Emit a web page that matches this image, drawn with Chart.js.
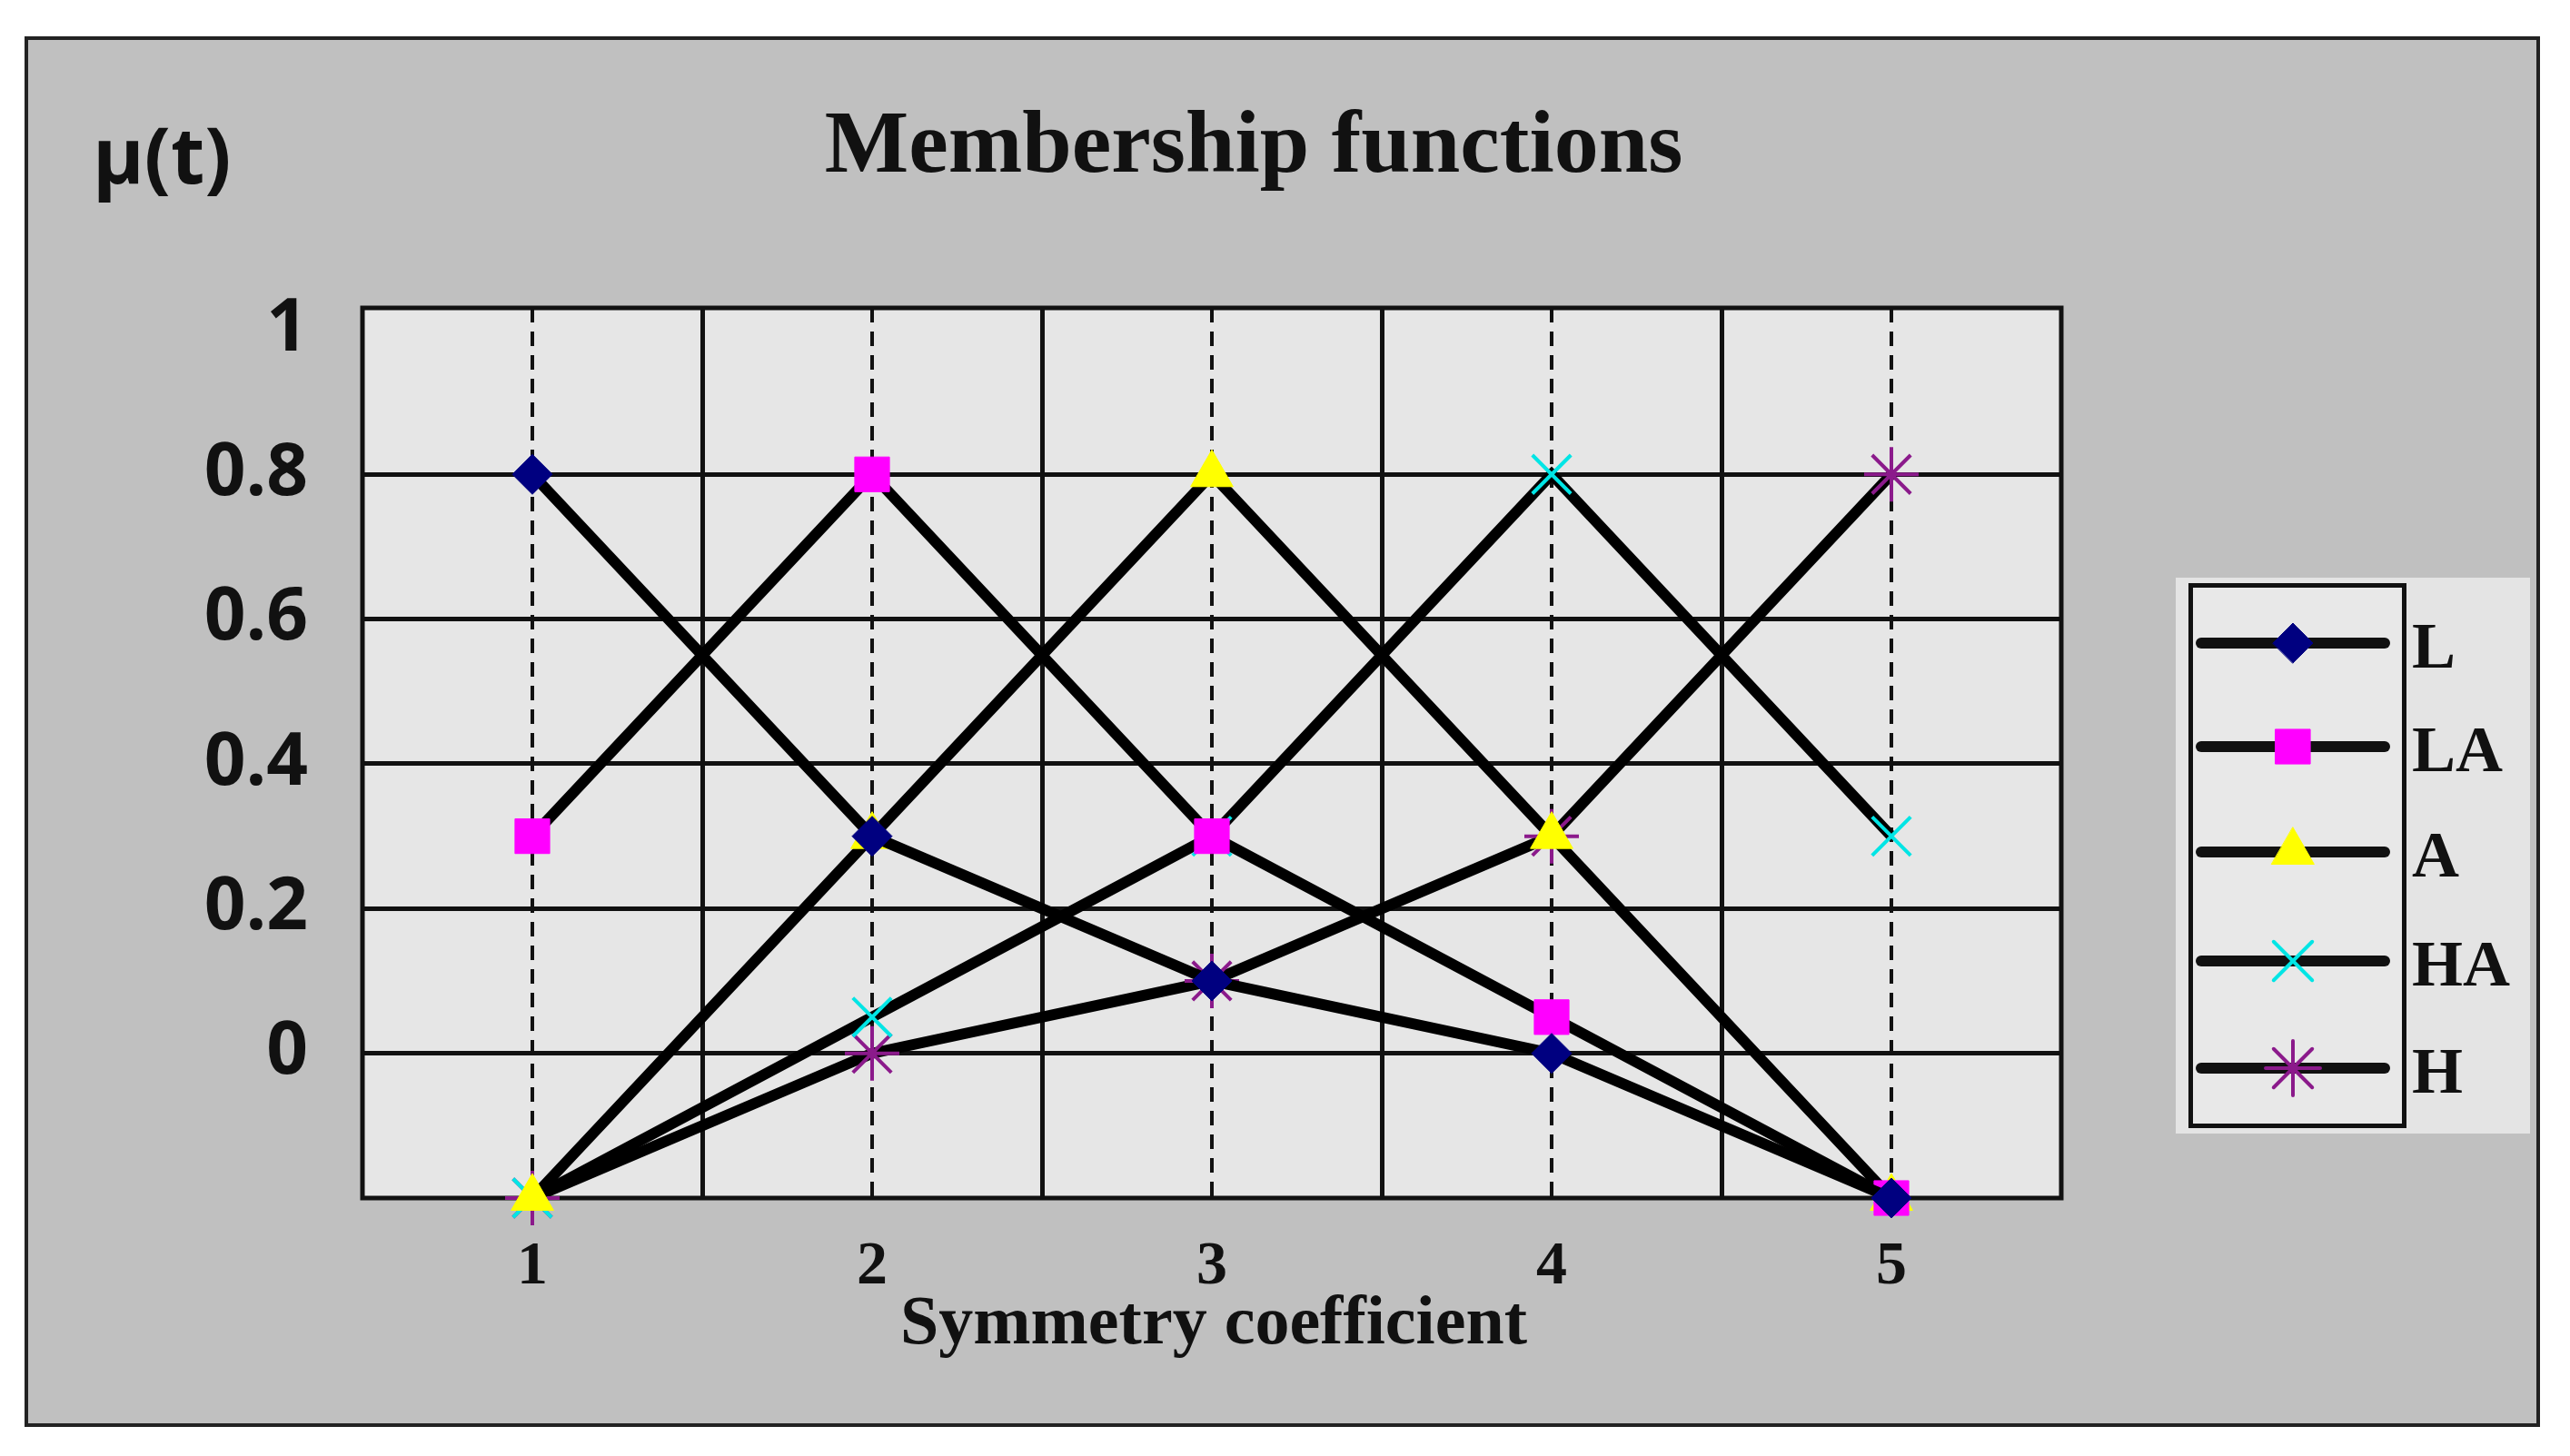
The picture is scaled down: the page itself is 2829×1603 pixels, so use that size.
<!DOCTYPE html>
<html><head><meta charset="utf-8">
<script src="https://cdn.jsdelivr.net/npm/chart.js@4"></script>
<style>
body{margin:0;width:2829px;height:1603px;background:#fff;position:relative;overflow:hidden}
#frame{position:absolute;left:27px;top:40px;width:2761px;height:1523px;background:#c0c0c0;border:4px solid #222}
#cv{position:absolute;left:0;top:0}
.t{position:absolute;font-weight:bold;color:#111;white-space:nowrap}
#legend{position:absolute;left:2395px;top:636px;width:390px;height:612px;background:#e4e4e4}
#lbox{position:absolute;left:14px;top:6px;width:230px;height:590px;border:5px solid #111;background:#e8e8e8}
.li{position:absolute;left:0;height:80px;width:390px}
.li span{position:absolute;left:260px;top:2px;font:bold 72px "Liberation Serif",serif;color:#111}
</style></head><body>
<div id="frame"></div>
<canvas id="cv" width="2829" height="1603"></canvas>
<div class="t" style="left:102px;top:110px;font:bold 86px 'Open Sans',sans-serif">μ(t)</div>
<div class="t" style="left:0;width:2760px;text-align:center;top:100px;font:bold 98px 'Liberation Serif',serif">Membership functions</div>
<div class="t" style="left:399px;width:1874px;text-align:center;top:1410px;font:bold 76px 'Liberation Serif',serif">Symmetry coefficient</div>
<div id="legend"><div id="lbox"></div></div>
<script>
var categories=[1,2,3,4,5];
var seriesNames=["L","LA","A","HA","H"];
var valuesL =[0.8,0.3,0.1,0,-0.2];
var valuesLA=[0.3,0.8,0.3,0.05,-0.2];
var valuesA =[-0.2,0.3,0.8,0.3,-0.2];
var valuesHA=[-0.2,0.05,0.3,0.8,0.3];
var valuesH =[-0.2,0,0.1,0.3,0.8];
var yTicks=[0,0.2,0.4,0.6,0.8,1];
var dashedTicks=[1,2,3,4,5];
var solidTicks=[1.5,2.5,3.5,4.5];

var markerColors=["#000080","#ff00ff","#ffff00","#00e5e5","#8b1a8b"];
var markerStyles=["rectRot","rect","triangle","cross","star"];
var markerRadius=[22,27,27,30,30];
var allValues=[valuesL,valuesLA,valuesA,valuesHA,valuesH];

var datasets=[];
for(var i=0;i<seriesNames.length;i++){
    var pts=[];
    for(var j=0;j<categories.length;j++) pts.push({x:categories[j],y:allValues[i][j]});
    datasets.push({
        label:seriesNames[i],data:pts,borderColor:"#000",borderWidth:12,
        pointStyle:markerStyles[i],pointRadius:markerRadius[i],rotation:(markerStyles[i]=="cross"?45:0),
        pointBackgroundColor:markerColors[i],pointBorderColor:markerColors[i],pointBorderWidth:(i>=3?4:1),
        clip:false
    });
}

var areaPlugin={
    id:"area",
    beforeDraw:function(c){
        var a=c.chartArea,x=c.ctx;
        x.save();x.fillStyle="#e6e6e6";x.fillRect(a.left,a.top,a.width,a.height);x.restore();
    },
    beforeDatasetsDraw:function(c){
        var a=c.chartArea,x=c.ctx;
        x.save();x.strokeStyle="#111";x.lineWidth=5;x.strokeRect(a.left,a.top,a.width,a.height);x.restore();
    }
};

new Chart(document.getElementById("cv"),{
    type:"line",
    data:{datasets:datasets},
    plugins:[areaPlugin],
    options:{
        responsive:false,animation:false,
        layout:{padding:{top:339,right:560,left:0,bottom:0}},
        plugins:{legend:{display:false},tooltip:{enabled:false}},
        scales:{
            x:{type:"linear",min:0.5,max:5.5,
                afterBuildTicks:function(s){s.ticks=dashedTicks.map(function(v){return {value:v};});},
                afterFit:function(s){s.height=284;},
                grid:{color:"#111",lineWidth:4,drawTicks:false},
                border:{display:false,dash:[16,10]},
                ticks:{padding:36,color:"#111",font:{family:"Liberation Serif",weight:"bold",size:68}}},
            x2:{type:"linear",min:0.5,max:5.5,position:"top",
                afterBuildTicks:function(s){s.ticks=solidTicks.map(function(v){return {value:v};});},
                afterFit:function(s){s.height=0;},
                grid:{color:"#111",lineWidth:5,drawTicks:false},
                border:{display:false},ticks:{display:false}},
            y:{min:-0.2,max:1.03,
                afterBuildTicks:function(s){s.ticks=yTicks.map(function(v){return {value:v};});},
                afterFit:function(s){s.width=399;},
                grid:{color:function(ctx){return ctx.tick&&ctx.tick.value==1?"rgba(0,0,0,0)":"#111";},lineWidth:5,drawTicks:false},
                border:{display:false},
                ticks:{padding:60,color:"#111",font:{family:"Open Sans",weight:"bold",size:80},
                    callback:function(v){return String(v);}}}
        }
    }
});

// HTML legend with line + marker samples
var lbox=document.getElementById("legend");
var legendTops=[32,146,262,382,500];
for(var k=0;k<seriesNames.length;k++){
    var d=document.createElement("div");d.className="li";d.style.top=legendTops[k]+"px";
    var c=document.createElement("canvas");c.width=230;c.height=80;c.style.position="absolute";c.style.left="20px";c.style.top="0";
    var g=c.getContext("2d");
    g.strokeStyle="#111";g.lineWidth=12;g.lineCap="round";g.beginPath();g.moveTo(8,40);g.lineTo(210,40);g.stroke();
    g.fillStyle=markerColors[k];g.strokeStyle=markerColors[k];g.lineWidth=(k>=3?4:1);
    Chart.helpers.drawPoint(g,{pointStyle:markerStyles[k],radius:markerRadius[k],rotation:(markerStyles[k]=="cross"?45:0),borderWidth:(k>=3?4:1)},109,40);
    d.appendChild(c);
    var s=document.createElement("span");s.textContent=seriesNames[k];d.appendChild(s);
    lbox.appendChild(d);
}
</script>
</body></html>
